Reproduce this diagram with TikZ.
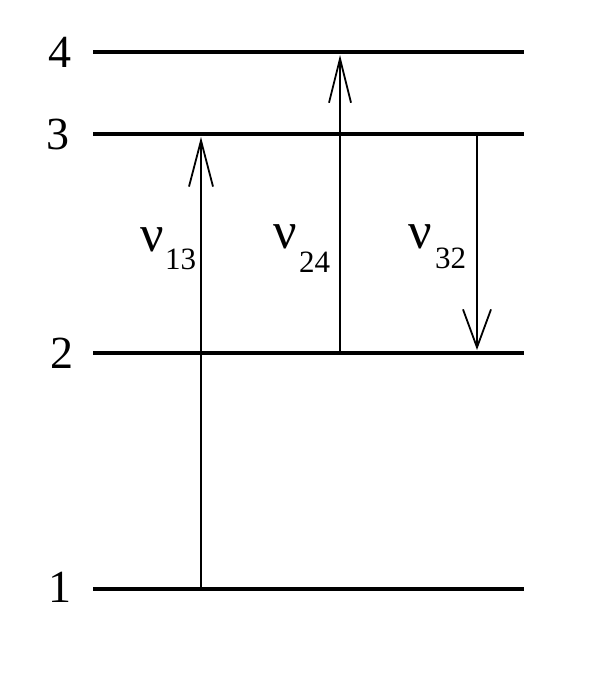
\documentclass[tikz,border=0pt]{standalone}
\usepackage{fontspec}
\setmainfont{Liberation Serif}
\usetikzlibrary{arrows.meta}
\begin{document}
\begin{tikzpicture}[x=1pt,y=-1pt,
  level/.style={line width=4.2pt},
  trans/.style={line width=1.1pt,-{Straight Barb[length=#1,line width=1.8pt]}},
  trans/.default={46pt,width=24pt},
  lvllabel/.style={font=\fontsize{46}{50}\selectfont,inner sep=0pt},
  nulabel/.style={font=\fontsize{52}{56}\selectfont,inner sep=0pt,anchor=base west},
  sublabel/.style={font=\fontsize{31}{34}\selectfont,inner sep=0pt,anchor=base west}]
\fill[white] (0,0) rectangle (606,696);
\useasboundingbox (0,0) rectangle (606,696);
% levels
\coordinate (l4a) at (93,52);  \coordinate (l4b) at (524,52);
\coordinate (l3a) at (93,134); \coordinate (l3b) at (524,134);
\coordinate (l2a) at (93,353); \coordinate (l2b) at (524,353);
\coordinate (l1a) at (93,589); \coordinate (l1b) at (524,589);
\draw[level] (l4a) -- (l4b);
\draw[level] (l3a) -- (l3b);
\draw[level] (l2a) -- (l2b);
\draw[level] (l1a) -- (l1b);
\node[lvllabel] (n4) at (60,52) {4};
\node[lvllabel] (n3) at (58,134) {3};
\node[lvllabel] (n2) at (62,353) {2};
\node[lvllabel] (n1) at (60,587) {1};
% transitions
\coordinate (t13s) at (201,589); \coordinate (t13e) at (201,137);
\coordinate (t24s) at (340,353); \coordinate (t24e) at (340,55);
\coordinate (t32s) at (477,136); \coordinate (t32e) at (477,350);
\draw[trans] (t13s) -- (t13e);
\draw[trans={44pt,width=22pt}] (t24s) -- (t24e);
\draw[trans={38pt,width=28pt}] (t32s) -- (t32e);
% labels
\node[nulabel] (nu13) at (140,251) {ν};
\node[sublabel] (s13) at (165,269) {13};
\node[nulabel] (nu24) at (273,248) {ν};
\node[sublabel] (s24) at (299,272) {24};
\node[nulabel] (nu32) at (408,248) {ν};
\node[sublabel] (s32) at (435,268) {32};
\end{tikzpicture}
\end{document}
